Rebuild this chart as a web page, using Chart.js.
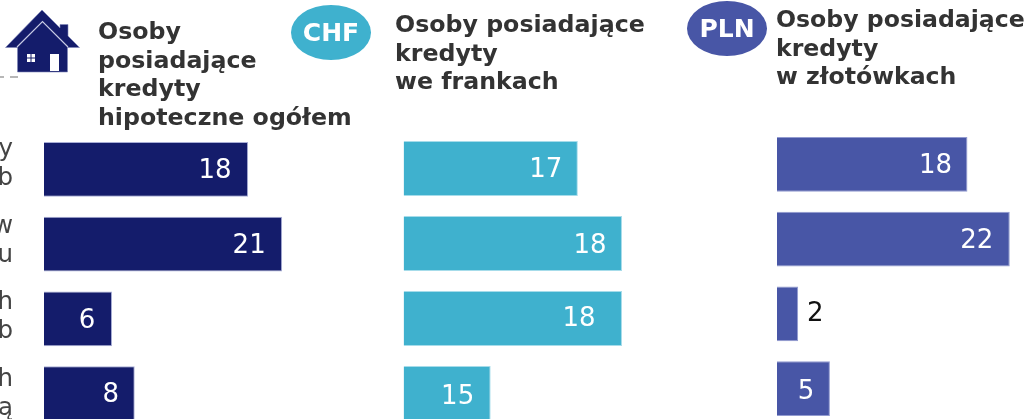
<!DOCTYPE html>
<html><head><meta charset="utf-8">
<script src="https://cdn.jsdelivr.net/npm/chart.js@4/dist/chart.umd.min.js"></script>
<style>
html,body{margin:0;padding:0;background:#fff;width:1028px;height:419px;overflow:hidden;font-family:"DejaVu Sans",sans-serif}
.box{position:absolute}
.h{position:absolute;font-weight:700;font-size:23.7px;line-height:28.5px;color:#333;white-space:pre;will-change:transform}
.oval{position:absolute;width:80px;height:55px;border-radius:50%;color:#fff;font-weight:700;font-size:25px;line-height:55px;text-align:center;will-change:transform}
</style></head><body>
<svg class="box" style="left:0;top:0" width="90" height="80" viewBox="0 0 90 80">
<path d="M42 10 L5.500 47.500 L17.500 47.500 L17.500 72 L67.500 72 L67.500 47.500 L79.500 47.500 L68 36 L68 24.500 L60 24.500 L60 28 Z" fill="#141c6b" stroke="#7f86b8" stroke-width=".6"/>
<path d="M17 47 L42.500 21.500 L68 47" fill="none" stroke="#c8cbe4" stroke-width="1.2"/>
<rect x="27" y="54" width="8" height="8" fill="#fff"/><path d="M31 54V62M27 58H35" stroke="#141c6b" stroke-width="1"/>
<rect x="50" y="54" width="9" height="17" fill="#fff"/>
<line x1="0" y1="77" x2="18" y2="77" stroke="#a0a0a0" stroke-width="1.5" stroke-dasharray="8 6" stroke-dashoffset="4"/>
</svg>
<div class="h" style="left:98px;top:17px">Osoby
posiadające
kredyty
hipoteczne ogółem</div>
<div class="oval" style="left:291px;top:5px;background:#3fb1ce">CHF</div>
<div class="h" style="left:395px;top:10px">Osoby posiadające
kredyty
we frankach</div>
<div class="oval" style="left:687px;top:1px;background:#4856a6">PLN</div>
<div class="h" style="left:776px;top:5px;font-size:23.6px">Osoby posiadające
kredyty
w złotówkach</div>
<canvas id="c0" class="box" style="left:0;top:126px"></canvas>
<canvas id="c1" class="box" style="left:0;top:132px"></canvas>
<canvas id="c2" class="box" style="left:394px;top:131px"></canvas>
<canvas id="c3" class="box" style="left:767px;top:127px"></canvas>
<script>
// Category-label fragments visible at the cropped left edge of the reference
const categories = [['y','b'],['w','u'],['h','b'],['h','ą']];
const totalValues = [18,21,6,8];
const totalLabels = ['18','21','6','8'];
// In the reference the CHF bars are not proportional to their printed labels
const chfValues = [15.4,19.3,19.3,7.7];
const chfLabels = ['17','18','18','15'];
const plnValues = [18,22,2,5];
const plnLabels = ['18','22','2','5'];

const valueLabels = {
  id:'valueLabels',
  afterDatasetsDraw(chart,args,opts){
    const {ctx}=chart, meta=chart.getDatasetMeta(0);
    if(!opts.labels) return;
    ctx.save();
    ctx.font='26px "DejaVu Sans"';
    ctx.textBaseline='middle'; ctx.textAlign='center';
    meta.data.forEach((el,i)=>{
      const p=opts.pos[i];
      ctx.fillStyle=p.dark?'#111':'#fff';
      ctx.fillText(opts.labels[i], el.x+p.dx, el.y+1+p.dy);
    });
    ctx.restore();
  }
};
function make(id,w,h,cats,vals,labels,color,border,pos,left,max,showCats){
  const c=document.getElementById(id); c.width=w;c.height=h;
  c.style.width=w+'px';c.style.height=h+'px';
  new Chart(c,{type:'bar',plugins:[valueLabels],
    data:{labels:cats,datasets:[{data:vals,backgroundColor:color,borderColor:border,borderWidth:1,barPercentage:1,categoryPercentage:.735}]},
    options:{indexAxis:'y',responsive:false,animation:false,
      layout:{padding:0},
      plugins:{legend:{display:false},tooltip:{enabled:false},valueLabels:{labels,pos}},
      scales:{
        x:{type:'linear',display:false,min:0,max,grid:{display:false}},
        y:{grid:{display:false,drawTicks:false},border:{display:false},
           afterFit(a){a.width=left;a.paddingTop=0;a.paddingBottom=0;},
           ticks:{display:showCats,autoSkip:false,minRotation:0,maxRotation:0,color:'#444',
                  font:{size:24.5,family:'"DejaVu Sans"',lineHeight:1.18},padding:31}}
      }}});
}
// Category labels sit on a slightly wider pitch than the bars, so they get their own axis
make('c0',44,306,categories,[0,0,0,0],null,'transparent','transparent',[],44,10,true);
make('c1',400,299,categories,totalValues,totalLabels,'#141c6b','#a9aed6',
  [{dx:-33,dy:1},{dx:-33,dy:1},{dx:-25,dy:1},{dx:-24,dy:1}],44,(400-44)/11.34,false);
make('c2',300,300,categories,chfValues,chfLabels,'#3fb1ce','#a6dcea',
  [{dx:-32,dy:1},{dx:-32,dy:2},{dx:-43,dy:0},{dx:-33,dy:3}],9.5,(300-9.5)/11.32,false);
make('c3',261,299,categories,plnValues,plnLabels,'#4856a6','#929bd0',
  [{dx:-32,dy:1},{dx:-33,dy:1},{dx:17,dy:-1,dark:true},{dx:-24,dy:3}],10,(261-10)/10.58,false);
</script>
</body></html>
